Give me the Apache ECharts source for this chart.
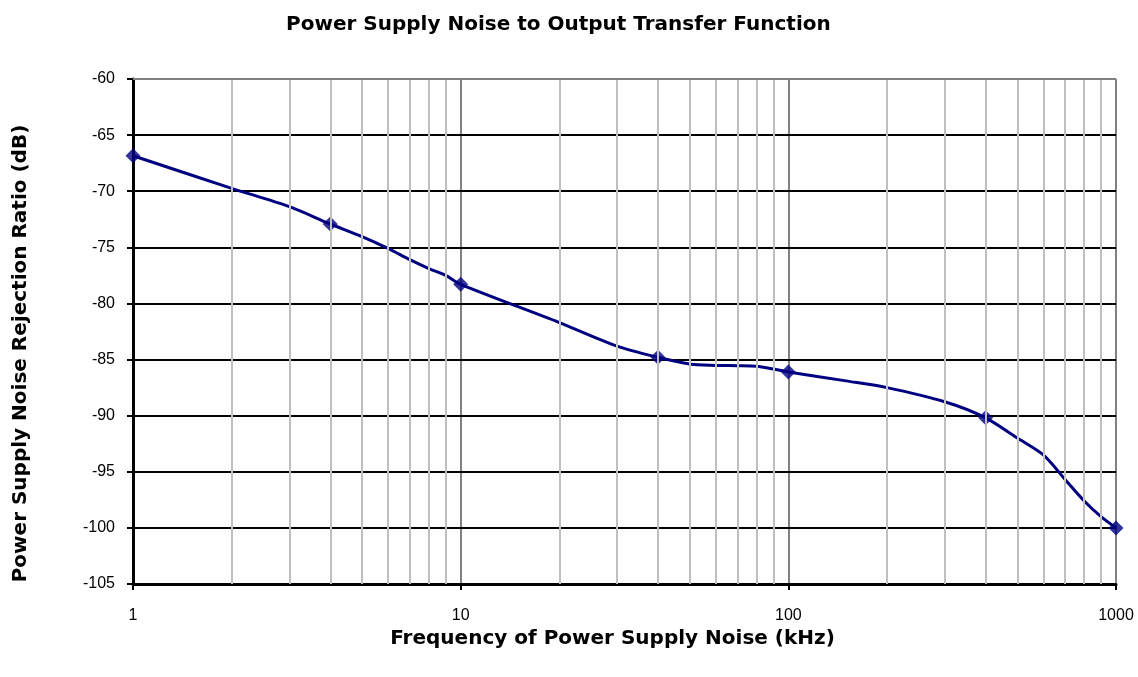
<!DOCTYPE html>
<html>
<head>
<meta charset="utf-8">
<script src="https://cdn.jsdelivr.net/npm/echarts@6/dist/echarts.min.js"></script>
<style>
html,body{margin:0;padding:0;background:#fff;}
#c{width:1138px;height:677px;}
</style>
</head>
<body>
<div id="c"></div>
<script>
// Data
var curveFreq = [1, 2, 3, 4, 5, 6, 7, 8, 9, 10, 20, 30, 40, 50, 60, 70, 80, 90, 100, 150, 200, 300, 400, 500, 600, 700, 800, 900, 1000];
var curvePsrr = [-66.84, -69.74, -71.38, -72.92, -74.05, -75.1, -76.1, -76.9, -77.5, -78.3, -81.7, -83.8, -84.8, -85.4, -85.52, -85.55, -85.6, -85.85, -86.1, -86.9, -87.5, -88.76, -90.19, -92.0, -93.5, -95.7, -97.6, -99.0, -100.0];
var markerFreq = [1, 4, 10, 40, 100, 400, 1000];
var markerPsrr = [-66.84, -72.92, -78.3, -84.8, -86.1, -90.19, -100.0];
var minorGridFreq = [2, 3, 4, 5, 6, 7, 8, 9, 20, 30, 40, 50, 60, 70, 80, 90, 200, 300, 400, 500, 600, 700, 800, 900];
var yTicks = {min: -105, max: -60, step: 5};

var FONT = 'Liberation Sans, Arial, sans-serif';
var TFONT = 'DejaVu Sans, sans-serif';
var chart = echarts.init(document.getElementById('c'));

var curveData = curveFreq.map(function (f, i) { return [f, curvePsrr[i]]; });
var markerData = markerFreq.map(function (f, i) { return [f, markerPsrr[i]]; });

chart.setOption({
  animation: false,
  backgroundColor: '#fff',
  title: {
    text: 'Power Supply Noise to Output Transfer Function',
    left: 281,
    top: 10,
    textStyle: {fontFamily: TFONT, fontSize: 20, fontWeight: 'bold', color: '#000'}
  },
  grid: {left: 133, right: 22, top: 79, bottom: 93, containLabel: false},
  xAxis: {
    type: 'log',
    logBase: 10,
    min: 1,
    max: 1000,
    z: 0,
    name: 'Frequency of Power Supply Noise (kHz)',
    nameLocation: 'middle',
    nameGap: 41,
    nameTextStyle: {fontFamily: TFONT, fontSize: 20, fontWeight: 'bold', color: '#000', padding: [0, 24, 0, 0]},
    axisLine: {show: true, onZero: false, lineStyle: {color: '#000', width: 3}},
    axisTick: {show: true, inside: false, length: 6, lineStyle: {color: '#000', width: 2}},
    axisLabel: {fontFamily: FONT, fontSize: 16, color: '#000', margin: 24,
      formatter: function (v) { return String(v); }},
    splitLine: {show: true, lineStyle: {color: '#808080', width: 2}},
    minorTick: {show: false},
    minorSplitLine: {show: false}
  },
  yAxis: {
    type: 'value',
    min: yTicks.min,
    max: yTicks.max,
    interval: yTicks.step,
    z: 1,
    name: 'Power Supply Noise Rejection Ratio (dB)',
    nameLocation: 'middle',
    nameRotate: 90,
    nameGap: 102,
    nameTextStyle: {fontFamily: TFONT, fontSize: 20, fontWeight: 'bold', color: '#000', padding: [0, 44, 0, 0]},
    axisLine: {show: true, onZero: false, lineStyle: {color: '#000', width: 3}},
    axisTick: {show: true, inside: false, length: 6, lineStyle: {color: '#000', width: 2}},
    axisLabel: {fontFamily: FONT, fontSize: 16, color: '#000', margin: 18},
    splitLine: {show: true, lineStyle: {color: '#000', width: 2}}
  },
  series: [
    {
      name: 'minorGrid',
      type: 'line',
      data: [],
      z: -1,
      silent: true,
      markLine: {
        silent: true,
        symbol: 'none',
        label: {show: false},
        animation: false,
        lineStyle: {color: '#c0c0c0', width: 2, type: 'solid'},
        emphasis: {disabled: true},
        data: minorGridFreq.map(function (f) { return {xAxis: f}; })
      }
    },
    {
      name: 'topBorder',
      type: 'line',
      data: [],
      z: 2,
      silent: true,
      markLine: {
        silent: true,
        symbol: 'none',
        label: {show: false},
        animation: false,
        lineStyle: {color: '#808080', width: 2, type: 'solid'},
        emphasis: {disabled: true},
        data: [{yAxis: yTicks.max}]
      }
    },
    {
      name: 'PSRR',
      type: 'line',
      data: curveData,
      smooth: 0.3,
      showSymbol: false,
      z: 3,
      lineStyle: {color: '#000080', width: 3},
      itemStyle: {color: '#000080'}
    },
    {
      name: 'PSRR points',
      type: 'scatter',
      data: markerData,
      symbol: 'diamond',
      symbolSize: 15,
      z: 4,
      itemStyle: {color: '#000080'}
    }
  ]
});
</script>
</body>
</html>
